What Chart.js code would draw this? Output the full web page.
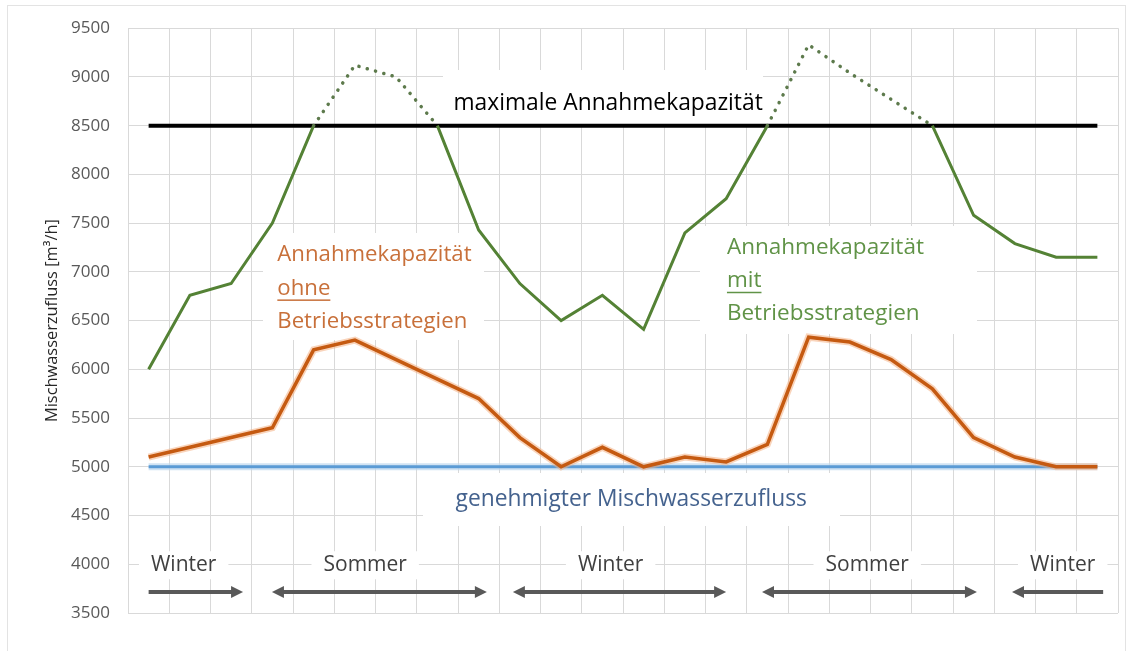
<!DOCTYPE html>
<html lang="de">
<head>
<meta charset="utf-8">
<title>Annahmekapazität Mischwasser</title>
<script src="https://cdn.jsdelivr.net/npm/chart.js@4.4.1/dist/chart.umd.min.js"></script>
<style>
  html, body { margin: 0; padding: 0; background: #fff; }
  #wrap { position: relative; width: 1131px; height: 651px; }
  #frame {
    position: absolute; left: 7px; top: 5px; width: 1119px; height: 660px;
    border: 1px solid #e3e3e3; box-sizing: border-box;
  }
  #chart { position: absolute; left: 0; top: 0; }
</style>
</head>
<body>
<div id="wrap">
  <div id="frame"></div>
  <canvas id="chart" width="1131" height="651"></canvas>
</div>
<script>
/* ---------- DATEN ---------- */
const PERIODS = ['1', '2', '3', '4', '5', '6', '7', '8', '9', '10', '11', '12',
                 '13', '14', '15', '16', '17', '18', '19', '20', '21', '22', '23', '24'];

// Annahmekapazität mit Betriebsstrategien (grün, über 8500 gepunktet)
const MIT_STRATEGIE = [6000, 6760, 6880, 7500, 8500, 9120, 9000, 8500, 7430, 6880, 6500, 6760,
                       6410, 7400, 7750, 8500, 9330, 9040, 8770, 8500, 7580, 7290, 7150, 7150];

// Annahmekapazität ohne Betriebsstrategien (orange)
const OHNE_STRATEGIE = [5100, 5200, 5300, 5400, 6200, 6300, 6100, 5900, 5700, 5300, 5000, 5200,
                        5000, 5100, 5050, 5230, 6330, 6280, 6100, 5800, 5300, 5100, 5000, 5000];

// maximale Annahmekapazität (schwarz)
const MAX_KAPAZITAET = [8500, 8500, 8500, 8500, 8500, 8500, 8500, 8500, 8500, 8500, 8500, 8500,
                        8500, 8500, 8500, 8500, 8500, 8500, 8500, 8500, 8500, 8500, 8500, 8500];

// genehmigter Mischwasserzufluss (blau)
const GENEHMIGT = [5000, 5000, 5000, 5000, 5000, 5000, 5000, 5000, 5000, 5000, 5000, 5000,
                   5000, 5000, 5000, 5000, 5000, 5000, 5000, 5000, 5000, 5000, 5000, 5000];

const Y_MIN = 3500;
const Y_MAX = 9500;
const Y_STEP = 500;

// Jahreszeiten: Beschriftung + Pfeil (Anfang/Ende in Kategorie-Index)
const SEASONS = ['Winter', 'Sommer', 'Winter', 'Sommer', 'Winter'];

const COLORS = {
  green:  '#548235',
  greenDot: '#5d7a4c',
  orange: '#c55a11',
  orangeHalo: 'rgba(244, 177, 131, 0.55)',
  blue:   '#5b9bd5',
  blueHalo: 'rgba(189, 215, 238, 0.7)',
  black:  '#000000',
  grid:   '#d9d9d9',
  tick:   '#595959',
  arrow:  '#595959'
};

const FONT = '"Open Sans", Lato, sans-serif';

/* ---------- TEXTFELDER (Position in Datenkoordinaten) ---------- */
const textBoxes = [
  { lines: ['maximale Annahmekapazität'], x: 11.14, y: 8730, align: 'center',
    color: '#000', size: 22.8, box: [443, 70, 763, 124] },
  { lines: ['Annahmekapazität', 'ohne', 'Betriebsstrategien'], x: 3.12, y: 7175, align: 'left',
    color: '#c8703a', size: 22.2, lineGap: 33.5, underline: 1, box: [263, 233, 484, 340] },
  { lines: ['Annahmekapazität', 'mit', 'Betriebsstrategien'], x: 14.02, y: 7250, align: 'left',
    color: '#609347', size: 22.5, lineGap: 33, underline: 1, box: [700, 226, 977, 334] },
  { lines: ['genehmigter Mischwasserzufluss'], x: 11.7, y: 4660, align: 'center',
    color: '#44628e', size: 22.8, box: [423, 473, 840, 526] }
];

const seasonMarks = [
  { label: SEASONS[0], lx: 0.85,  from: 0,     to: 2.29,  left: false, right: true },
  { label: SEASONS[1], lx: 5.25,  from: 2.99,  to: 8.2,   left: true,  right: true },
  { label: SEASONS[2], lx: 11.2,  from: 8.83,  to: 14.0,  left: true,  right: true },
  { label: SEASONS[3], lx: 17.42, from: 14.87, to: 20.08, left: true,  right: true },
  { label: SEASONS[4], lx: 22.16, from: 20.93, to: 23.14, left: true,  right: false }
];

/* ---------- PLUGIN: Textfelder + Jahreszeiten-Pfeile ---------- */
function drawArrowHead(ctx, x, y, dir) {
  ctx.beginPath();
  ctx.moveTo(x, y);
  ctx.lineTo(x - dir * 12, y - 6);
  ctx.lineTo(x - dir * 12, y + 6);
  ctx.closePath();
  ctx.fill();
}

const annotationPlugin = {
  id: 'annotations',
  beforeDatasetsDraw(chart) {
    const { ctx, scales: { x, y } } = chart;
    ctx.save();

    // Textfelder mit weißem Hintergrund
    textBoxes.forEach(t => {
      const [bx0, by0, bx1, by1] = t.box;
      ctx.fillStyle = '#fff';
      ctx.fillRect(bx0, by0, bx1 - bx0, by1 - by0);

      const px = x.getPixelForValue(t.x);
      let py = y.getPixelForValue(t.y);
      ctx.font = `${t.size}px ${FONT}`;
      ctx.fillStyle = t.color;
      ctx.textAlign = t.align;
      ctx.textBaseline = 'middle';
      t.lines.forEach((line, i) => {
        const ly = py + i * (t.lineGap || 0);
        ctx.fillText(line, px, ly);
        if (t.underline === i) {
          const w = ctx.measureText(line).width;
          ctx.fillRect(px, ly + t.size * 0.5, w, 1.5);
        }
      });
    });

    // Jahreszeiten
    const labelY = y.getPixelForValue(3990);
    const arrowY = y.getPixelForValue(3715);
    ctx.font = `21px ${FONT}`;
    ctx.textAlign = 'center';
    ctx.textBaseline = 'middle';
    seasonMarks.forEach(s => {
      const lx = x.getPixelForValue(s.lx);
      const w = ctx.measureText(s.label).width;
      ctx.fillStyle = '#fff';
      ctx.fillRect(lx - w / 2 - 12, labelY - 14, w + 24, 28);
      ctx.fillStyle = '#404040';
      ctx.fillText(s.label, lx, labelY);

      const x0 = x.getPixelForValue(s.from);
      const x1 = x.getPixelForValue(s.to);
      ctx.strokeStyle = COLORS.arrow;
      ctx.fillStyle = COLORS.arrow;
      ctx.lineWidth = 4;
      ctx.beginPath();
      ctx.moveTo(s.left ? x0 + 8 : x0, arrowY);
      ctx.lineTo(s.right ? x1 - 8 : x1, arrowY);
      ctx.stroke();
      if (s.right) drawArrowHead(ctx, x1, arrowY, 1);
      if (s.left) drawArrowHead(ctx, x0, arrowY, -1);
    });

    ctx.restore();
  }
};

/* ---------- CHART ---------- */
const overMax = ctx => ctx.p0.parsed.y >= 8500 && ctx.p1.parsed.y >= 8500;

new Chart(document.getElementById('chart'), {
  type: 'line',
  data: {
    labels: PERIODS,
    datasets: [
      {
        label: 'Annahmekapazität mit Betriebsstrategien',
        data: MIT_STRATEGIE,
        borderColor: COLORS.green,
        borderWidth: 3,
        pointRadius: 0,
        tension: 0,
        order: 1,
        segment: {
          borderDash: ctx => overMax(ctx) ? [0.1, 8.5] : undefined,
          borderCapStyle: ctx => overMax(ctx) ? 'round' : undefined,
          borderWidth: ctx => overMax(ctx) ? 3.5 : undefined,
          borderColor: ctx => overMax(ctx) ? COLORS.greenDot : undefined
        }
      },
      {
        label: 'Annahmekapazität ohne Betriebsstrategien',
        data: OHNE_STRATEGIE,
        borderColor: COLORS.orange,
        borderWidth: 3.5,
        pointRadius: 0,
        order: 2
      },
      {
        label: 'ohne (Halo)',
        data: OHNE_STRATEGIE,
        borderColor: COLORS.orangeHalo,
        borderWidth: 7,
        pointRadius: 0,
        order: 3
      },
      {
        label: 'maximale Annahmekapazität',
        data: MAX_KAPAZITAET,
        borderColor: COLORS.black,
        borderWidth: 4,
        pointRadius: 0,
        order: 4
      },
      {
        label: 'genehmigter Mischwasserzufluss',
        data: GENEHMIGT,
        borderColor: COLORS.blue,
        borderWidth: 3,
        pointRadius: 0,
        order: 5
      },
      {
        label: 'genehmigt (Halo)',
        data: GENEHMIGT,
        borderColor: COLORS.blueHalo,
        borderWidth: 7,
        pointRadius: 0,
        order: 6
      }
    ]
  },
  options: {
    responsive: false,
    animation: false,
    layout: { padding: { left: 0, right: 13, top: 28, bottom: 38 } },
    plugins: {
      legend: { display: false },
      tooltip: { enabled: false }
    },
    scales: {
      x: {
        offset: true,
        grid: { offset: true, color: COLORS.grid, drawTicks: false },
        border: { display: false },
        ticks: { display: false }
      },
      y: {
        min: Y_MIN,
        max: Y_MAX,
        afterFit: s => { s.width = 128; },
        ticks: {
          stepSize: Y_STEP,
          padding: 18,
          color: COLORS.tick,
          font: { family: FONT, size: 17 },
          callback: v => String(v)
        },
        grid: { color: COLORS.grid, drawTicks: false },
        border: { display: false },
        title: {
          display: true,
          text: 'Mischwasserzufluss [m³/h]',
          color: '#262626',
          padding: { top: 42, bottom: 0 },
          font: { family: FONT, size: 16.4 }
        }
      }
    }
  },
  plugins: [annotationPlugin]
});
</script>
</body>
</html>
